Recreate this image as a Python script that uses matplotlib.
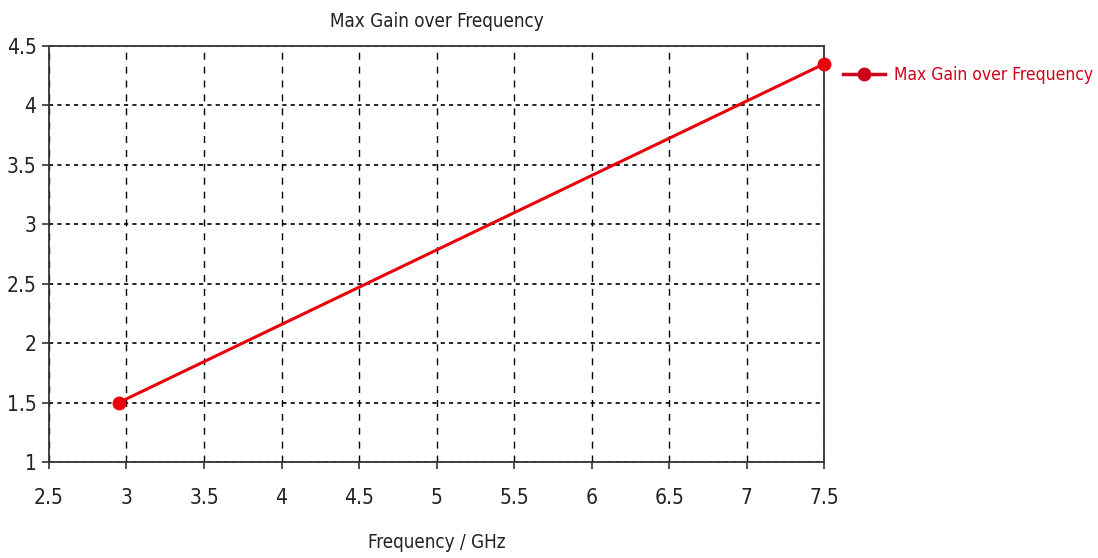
import matplotlib.pyplot as plt
from matplotlib.lines import Line2D

# condensed face gives the narrow look of the original
plt.rcParams["font.family"] = ["DejaVu Sans"]
plt.rcParams["font.stretch"] = "condensed"

# data
freq_ghz = [2.95, 7.5]
max_gain = [1.5, 4.35]
x_ticks = [2.5, 3, 3.5, 4, 4.5, 5, 5.5, 6, 6.5, 7, 7.5]
y_ticks = [1, 1.5, 2, 2.5, 3, 3.5, 4, 4.5]
series_name = "Max Gain over Frequency"

fig = plt.figure(figsize=(10.98, 5.58), dpi=100)
ax = fig.add_axes([0.0446, 0.172, 0.706, 0.7455])

ax.plot(freq_ghz, max_gain, color="#e8000b", lw=2.2, marker="o",
        markersize=9, clip_on=False, zorder=5)

ax.set_xlim(2.5, 7.5)
ax.set_ylim(1, 4.5)
ax.set_xticks(x_ticks)
ax.set_yticks(y_ticks)
ax.set_xticklabels([f"{v:g}" for v in x_ticks])
ax.set_yticklabels([f"{v:g}" for v in y_ticks])
ax.tick_params(labelsize=15, length=5, width=1.2, color="#333333",
               labelcolor="#222222")
ax.tick_params(axis="y", pad=4)
ax.tick_params(axis="x", pad=14)
ax.xaxis.grid(True, color="black", lw=1, linestyle=(0, (5, 5)))
ax.yaxis.grid(True, color="black", lw=1.2, linestyle=(0, (2.5, 2.5)))

for s in ax.spines.values():
    s.set_color("#333333")
    s.set_linewidth(1.3)

ax.set_title("Max Gain over Frequency", fontsize=13.5, color="#222222", pad=14)
ax.set_xlabel("Frequency / GHz", fontsize=13.5, color="#222222", labelpad=18)

handle = Line2D([], [], color="#d0021b", lw=2.5, marker="o", markersize=9)
leg = fig.legend([handle], [series_name], loc="center left",
                 bbox_to_anchor=(0.768, 0.865), frameon=False,
                 borderaxespad=0, borderpad=0,
                 fontsize=12.5, handlelength=2.4, handletextpad=0.5)
for t in leg.get_texts():
    t.set_color("#d0021b")

fig.savefig("out.png", dpi=100)
